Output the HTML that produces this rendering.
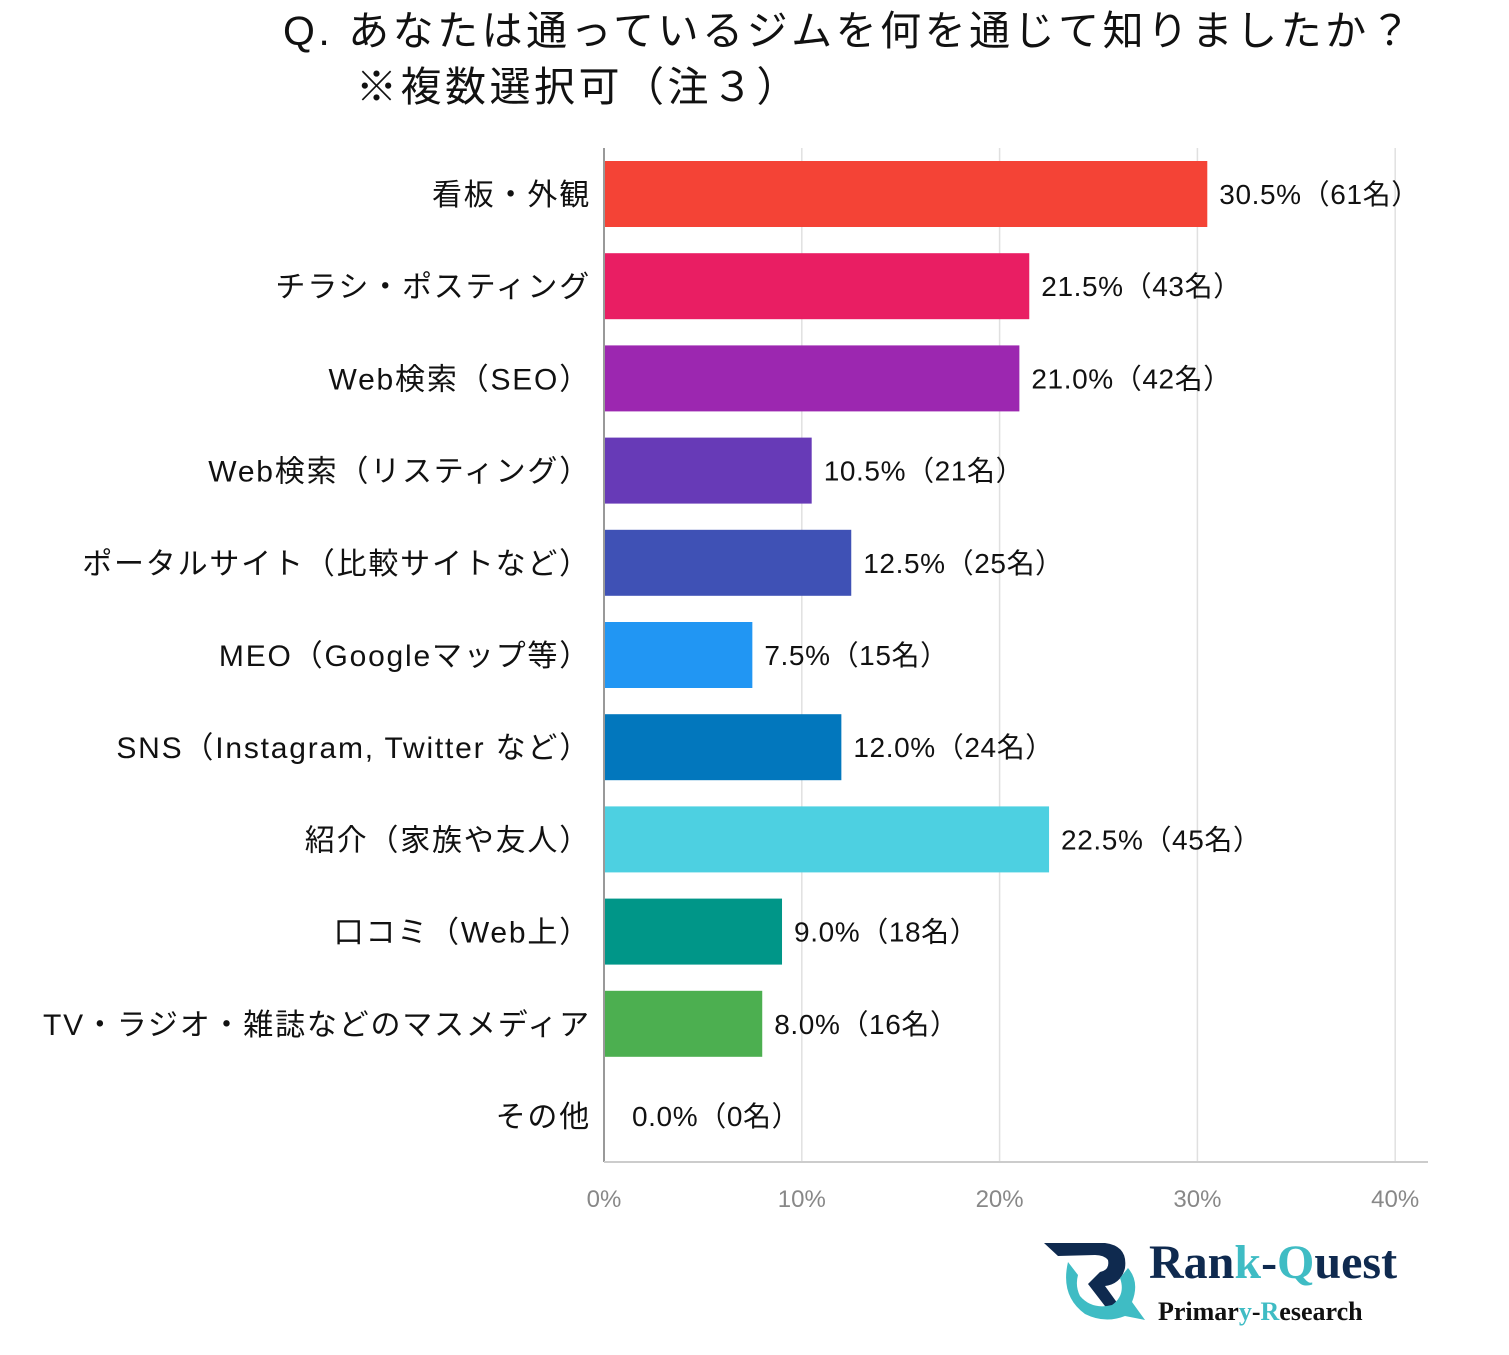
<!DOCTYPE html>
<html><head><meta charset="utf-8"><style>
body{margin:0;background:#fff;width:1509px;height:1350px;overflow:hidden;font-family:"Liberation Sans","Noto Sans CJK JP",sans-serif;}
svg text{font-family:"Liberation Sans","Noto Sans CJK JP",sans-serif;}
svg text.serif{font-family:"Liberation Serif",serif;}
</style></head><body>
<svg id="chart" width="1509" height="1350" xmlns="http://www.w3.org/2000/svg">
<text x="283" y="45" font-size="41" letter-spacing="3.5" fill="#111">Q.  あなたは通っているジムを何を通じて知りましたか？</text>
<text x="356" y="101" font-size="41" letter-spacing="3.5" fill="#111">※複数選択可（注３）</text>
<g id="grid"></g><g id="bars"></g><g id="labels"></g>
<g>
<path d="M1044 1243 L1105 1243 Q1128 1246 1125 1268 Q1121 1284 1105 1286 L1118 1304 L1108 1310 L1088 1284 L1100 1272 Q1110 1270 1108 1260 Q1104 1255 1095 1255 L1058 1256 Z" fill="#0f2a4f"/>
<path d="M1068 1262 Q1060 1296 1085 1314 Q1105 1324 1125 1316 L1145 1320 L1132 1302 Q1140 1282 1128 1268 L1120 1278 Q1126 1295 1112 1305 Q1092 1310 1080 1296 Q1075 1286 1078 1275 Z" fill="#3fbcc4"/>
<text class="serif" x="1149" y="1278" font-size="48" font-weight="bold" fill="#0f2a4f">Ran<tspan fill="#3fbcc4">k</tspan>-<tspan fill="#3fbcc4">Q</tspan>uest</text>
<text class="serif" x="1158" y="1320" font-size="26" font-weight="bold" fill="#111">Primar<tspan fill="#3fbcc4">y</tspan>-<tspan fill="#3fbcc4">R</tspan>esearch</text>
</g>
</svg>
<script>
const categories=["看板・外観","チラシ・ポスティング","Web検索（SEO）","Web検索（リスティング）","ポータルサイト（比較サイトなど）","MEO（Googleマップ等）","SNS（Instagram, Twitter など）","紹介（家族や友人）","口コミ（Web上）","TV・ラジオ・雑誌などのマスメディア","その他"];
const values=[30.5,21.5,21.0,10.5,12.5,7.5,12.0,22.5,9.0,8.0,0.0];
const counts=[61,43,42,21,25,15,24,45,18,16,0];
const colors=["#f44336","#e91e63","#9c27b0","#673ab7","#3f51b5","#2196f3","#0277bd","#4dd0e1","#009688","#4caf50","#8bc34a"];
const ticks=[0,10,20,30,40];
const NS="http://www.w3.org/2000/svg";
const x0=604,pxPer=19.78,top0=148,pitch=92.2,barH=66;
const xs=v=>x0+v*pxPer;
const yc=i=>top0+46+i*pitch;
function mk(t,a,p){const e=document.createElementNS(NS,t);for(const k in a)e.setAttribute(k,a[k]);document.getElementById(p).appendChild(e);return e;}
ticks.forEach(t=>{
 const l=mk('line',{x1:xs(t),x2:xs(t),y1:148,y2:1162,stroke:t===0?'#999':'#e0e0e0','stroke-width':t===0?2:1.5},'grid');
 
 
 const tx=mk('text',{x:xs(t),y:1207,'text-anchor':'middle','font-size':24,fill:'#888'},'grid');
 tx.textContent=t+'%';
 
 
});
const base=mk('line',{x1:604,x2:1428,y1:1162,y2:1162,stroke:'#ccc','stroke-width':2},'grid');


categories.forEach((c,i)=>{
 const y=yc(i);
 const r=mk('rect',{x:x0+1,y:y-barH/2,width:Math.max(0,xs(values[i])-x0-1),height:barH,fill:colors[i]},'bars');
 
 
 const lab=mk('text',{x:591,y:y+11,'text-anchor':'end','font-size':30,'letter-spacing':1.8,fill:'#111'},'labels');
 lab.textContent=c;
 
 
 const vx=values[i]>0?xs(values[i])+12:632;
 const v=mk('text',{x:vx,y:y+10,'font-size':28,'letter-spacing':0.6,fill:'#111'},'labels');
 v.textContent=values[i].toFixed(1)+'%（'+counts[i]+'名）';
 
 
});
</script>
</body></html>
